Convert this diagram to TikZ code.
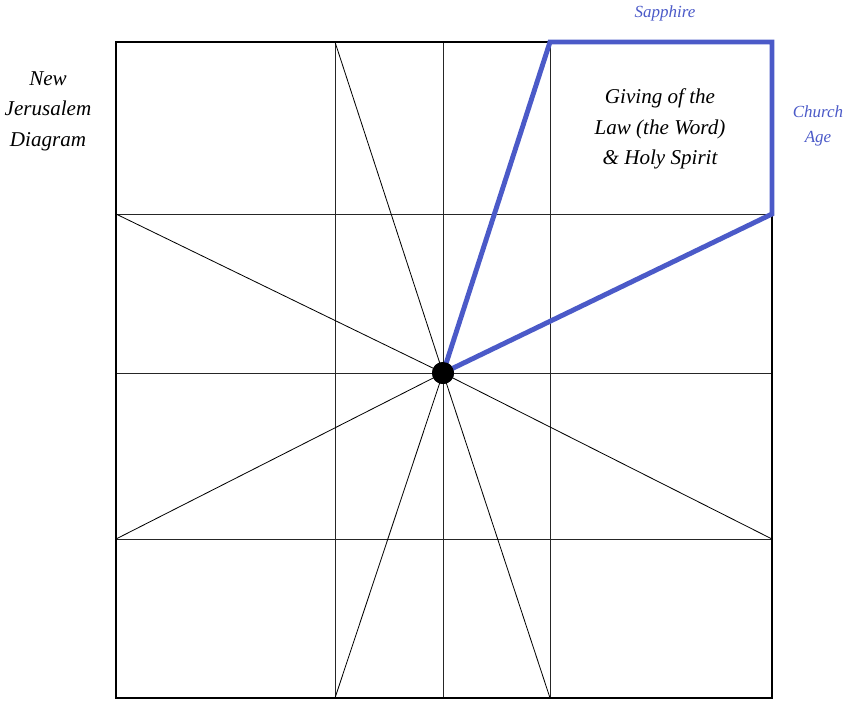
\documentclass[tikz,border=0pt]{standalone}
\usepackage{fontspec}
\setmainfont{Liberation Serif}
\usetikzlibrary{positioning}

\definecolor{sapphire}{RGB}{75,90,200}

\begin{document}
\begin{tikzpicture}[
    x=0.03cm, y=-0.03cm,
    every node/.style={inner sep=0pt, align=center},
    grid/.style={line width=0.8pt, black!85},
    frame/.style={line width=2pt},
    blueline/.style={line width=4.2pt, sapphire, line join=miter},
    label/.style={font=\itshape\fontsize{18}{26}\selectfont},
    bluelabel/.style={font=\itshape\fontsize{14.5}{21}\selectfont, text=sapphire}
]
\useasboundingbox (0,0) rectangle (844,701);

% Puntos de la cuadricula
\coordinate (NW) at (116,42);
\coordinate (SE) at (772,698);
\coordinate (Ta) at (335,42);   \coordinate (Ba) at (335,698);
\coordinate (Tb) at (443,42);   \coordinate (Bb) at (443,698);
\coordinate (Tc) at (550,42);   \coordinate (Bc) at (550,698);
\coordinate (La) at (116,214);  \coordinate (Ra) at (772,214);
\coordinate (Lb) at (116,373);  \coordinate (Rb) at (772,373);
\coordinate (Lc) at (116,539);  \coordinate (Rc) at (772,539);
\coordinate (NE) at (772,42);

% Centro
\node[circle, fill=black, minimum size=0.66cm] (centre) at (443,373) {};

% Lineas interiores
\draw[grid] (Ta) -- (Ba);
\draw[grid] (Tb) -- (Bb);
\draw[grid] (Tc) -- (Bc);
\draw[grid] (La) -- (Ra);
\draw[grid] (Lb) -- (Rb);
\draw[grid] (Lc) -- (Rc);

% Rayos desde el centro
\foreach \p in {Ta,La,Lc,Ba,Bc,Rc}
    \draw[line width=0.7pt] (centre.center) -- (\p);

% Marco exterior
\draw[frame] (NW) rectangle (SE);

% Sector azul
\draw[blueline] (centre.center) -- (Tc) -- (NE) -- (Ra) -- cycle;
\node[circle, fill=black, minimum size=0.66cm] at (centre) {};

% Textos
\node[label] (title) at (48,111) {New\\Jerusalem\\Diagram};
\node[label] (law) at (660,129) {Giving of the\\Law (the Word)\\\& Holy Spirit};
\node[bluelabel] (sapph) at (665,13) {Sapphire};
\node[bluelabel] (church) at (818,126) {Church\\Age};

\end{tikzpicture}
\end{document}
